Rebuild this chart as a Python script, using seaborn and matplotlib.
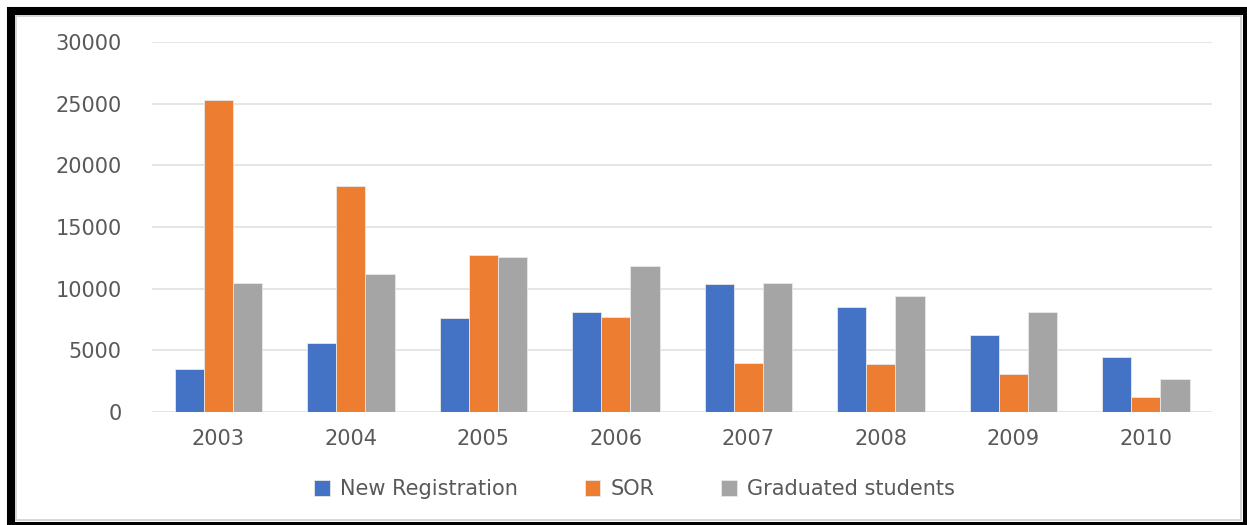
import pandas as pd
import matplotlib.pyplot as plt
import seaborn as sns
from matplotlib.patches import Rectangle

# values
years = ["2003", "2004", "2005", "2006", "2007", "2008", "2009", "2010"]
new_registration = [3500, 5600, 7600, 8100, 10400, 8550, 6250, 4500]
sor = [25300, 18300, 12700, 7700, 4000, 3900, 3100, 1250]
graduated = [10500, 11200, 12600, 11800, 10500, 9400, 8100, 2650]
series_names = ["New Registration", "SOR", "Graduated students"]
colors = ["#4472C4", "#ED7D31", "#A5A5A5"]
text_color = "#595959"

df = pd.DataFrame({
    "Year": years * 3,
    "Series": [series_names[0]] * 8 + [series_names[1]] * 8 + [series_names[2]] * 8,
    "Value": new_registration + sor + graduated,
})

sns.set_style("white")
plt.rcParams["font.family"] = ["DejaVu Sans"]

fig = plt.figure(figsize=(12.47, 5.25), dpi=100)
ax = fig.add_axes([0.1219, 0.2152, 0.8501, 0.7048])

sns.barplot(data=df, x="Year", y="Value", hue="Series", order=years,
            hue_order=series_names, palette=colors, saturation=1,
            width=0.66, errorbar=None, edgecolor="#e8e8e8", linewidth=0.6,
            ax=ax)

ax.set_ylim(0, 30000)
ax.set_yticks(range(0, 30001, 5000))
ax.set_xlabel("")
ax.set_ylabel("")
ax.yaxis.grid(True, color="#dedede", linewidth=1.1)
ax.set_axisbelow(True)
for s in ax.spines.values():
    s.set_visible(False)
ax.tick_params(axis="y", length=0, pad=22, labelsize=15, labelcolor=text_color)
ax.tick_params(axis="x", length=0, pad=12, labelsize=15, labelcolor=text_color)

handles, labels = ax.get_legend_handles_labels()
ax.get_legend().remove()
fig.legend(handles, labels, loc="center", bbox_to_anchor=(0.509, 0.068),
           ncol=3, frameon=False, fontsize=15, labelcolor=text_color,
           handlelength=0.75, handleheight=0.75, handletextpad=0.5,
           columnspacing=3.2)

# black frame around the picture, its right and bottom edges cut by the border
W, H = 1247, 525
fig.patches.append(Rectangle((11 / W, -1 / H), 1236 / W, 515 / H,
                             transform=fig.transFigure, fill=False,
                             edgecolor="black", linewidth=5.8))
fig.patches.append(Rectangle((16 / W, 5 / H), 1225 / W, 504 / H,
                             transform=fig.transFigure, fill=False,
                             edgecolor="#cfcfcf", linewidth=1.2))

plt.savefig("out.png", dpi=100)
